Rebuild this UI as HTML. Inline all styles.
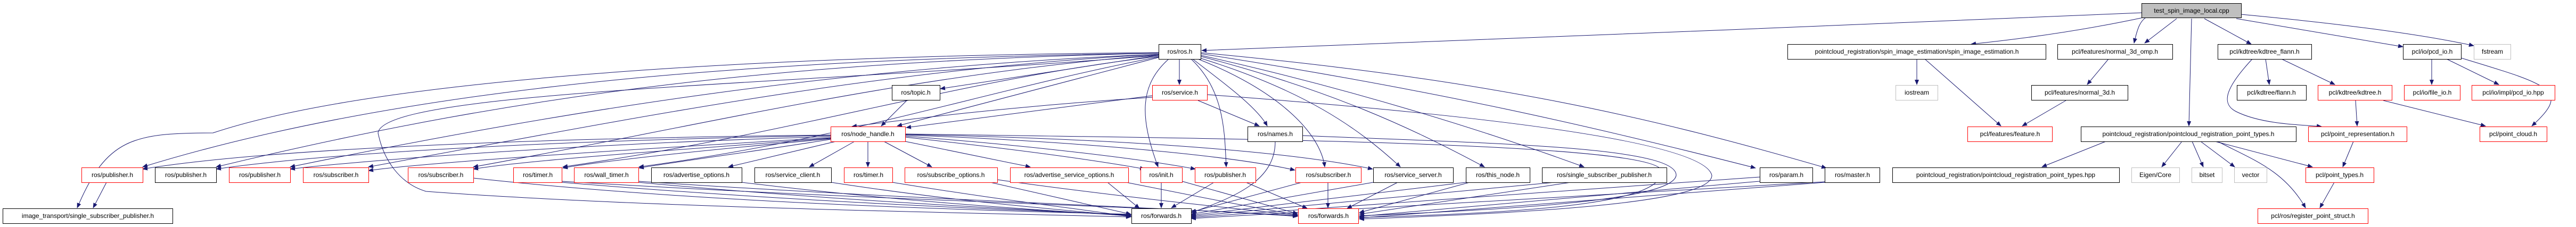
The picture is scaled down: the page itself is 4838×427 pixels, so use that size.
<!DOCTYPE html>
<html><head><meta charset="utf-8"><style>
html,body{margin:0;padding:0;background:#fff;}
svg{display:block}
text{font-family:"Liberation Sans",sans-serif;font-size:12px;fill:#000}
</style></head><body>
<svg width="4838" height="427" viewBox="0 0 4838 427" xmlns="http://www.w3.org/2000/svg">
<defs>
<marker id="a" markerWidth="10" markerHeight="8" refX="9" refY="4" orient="auto" markerUnits="userSpaceOnUse">
<path d="M0,0 L10,4 L0,8 z" fill="#191970"/>
</marker>
</defs>
<g fill="none" stroke="#191970" stroke-width="1" marker-end="url(#a)">
<path d="M4022,24 C3500,45 2700,80 2257,95"/>
<path d="M4030,32 C3900,60 3780,75 3702,83"/>
<path d="M4030,33 C4020,40 4015,50 4008,81"/>
<path d="M4088,35 L4028,81"/>
<path d="M4140,35 L4228,83"/>
<path d="M4116,35 L4111,237"/>
<path d="M4200,35 L4513,88"/>
<path d="M4209,27 C4400,45 4550,65 4646,86"/>
<path d="M3600,111 L3600,159"/>
<path d="M3615,111 L3758,237"/>
<path d="M3960,111 L3920,159"/>
<path d="M3880,189 L3798,237"/>
<path d="M4230,111 C4180,165 4170,195 4200,210 C4250,235 4330,235 4360,238"/>
<path d="M4255,111 L4262,159"/>
<path d="M4285,111 L4385,159"/>
<path d="M4424,189 L4427,237"/>
<path d="M4476,189 L4668,237"/>
<path d="M4567,111 L4567,159"/>
<path d="M4595,111 L4693,159"/>
<path d="M4622,109 C4790,160 4830,170 4755,237"/>
<path d="M4420,266 L4400,314"/>
<path d="M4098,266 L4060,314"/>
<path d="M4117,266 L4138,314"/>
<path d="M4133,266 L4197,314"/>
<path d="M4160,266 L4343,314"/>
<path d="M4165,266 C4230,300 4290,320 4330,391"/>
<path d="M3955,266 L3835,314"/>
<path d="M4384,343 L4357,391"/>
<path d="M2176,104 L1766,167"/>
<path d="M2176,108 L1685,237"/>
<path d="M2215,111 L2215,159"/>
<path d="M2240,111 C2290,150 2360,200 2380,237"/>
<path d="M2195,111 C2140,160 2140,220 2175,314"/>
<path d="M2237,111 C2300,170 2300,250 2303,314"/>
<path d="M2250,111 C2400,170 2480,250 2488,314"/>
<path d="M2253,109 C2450,170 2550,240 2630,314"/>
<path d="M2255,106 C2500,170 2650,240 2788,314"/>
<path d="M2255,104 C2550,170 2800,250 2975,314"/>
<path d="M2255,101 C2700,170 3000,240 3297,316"/>
<path d="M2255,99 C2800,150 3100,220 3430,316"/>
<path d="M2176,100 C1500,110 800,150 268,314"/>
<path d="M2176,100 C1500,115 1000,170 406,314"/>
<path d="M2176,102 C1600,125 1100,200 545,314"/>
<path d="M2176,102 C1650,130 1200,220 692,314"/>
<path d="M2176,103 C1700,140 1300,240 889,314"/>
<path d="M2176,99 C1400,105 700,150 400,250 C250,250 200,260 145,391"/>
<path d="M2176,106 C1800,150 1500,250 1057,314"/>
<path d="M2176,107 C1850,170 1600,260 1200,314"/>
<path d="M2176,104 C1500,160 720,170 710,250 C720,300 750,345 800,360 C1200,390 1800,400 2124,408"/>
<path d="M1560,254 C1000,260 500,280 268,318"/>
<path d="M1560,255 C1000,265 600,290 406,318"/>
<path d="M1560,257 C1100,270 700,300 545,318"/>
<path d="M1560,259 C1200,280 800,305 692,321"/>
<path d="M1560,260 C1300,280 1000,300 889,318"/>
<path d="M1560,261 C1350,280 1150,300 1057,316"/>
<path d="M1560,262 C1450,280 1300,300 1200,316"/>
<path d="M1570,266 L1368,314"/>
<path d="M1605,266 L1520,314"/>
<path d="M1630,266 L1630,314"/>
<path d="M1660,266 L1750,314"/>
<path d="M1700,266 L1935,314"/>
<path d="M1700,258 C1900,280 2050,300 2150,318"/>
<path d="M1700,256 C1950,275 2150,300 2245,318"/>
<path d="M1700,254 C2000,265 2300,290 2432,320"/>
<path d="M1700,253 C2050,260 2400,280 2578,318"/>
<path d="M1700,252 C2200,260 3100,265 3120,320 C3130,380 2900,400 2553,409"/>
<path d="M2164,180 L1702,240"/>
<path d="M2164,183 C1900,200 1700,225 1600,238"/>
<path d="M2250,189 L2365,237"/>
<path d="M2267,178 C2700,210 3200,260 3215,330 C3215,380 2900,400 2553,412"/>
<path d="M2446,255 C2800,270 3150,275 3148,330 C3140,380 2800,395 2553,406"/>
<path d="M1703,189 L1655,237"/>
<path d="M2395,266 C2395,340 2320,370 2238,400"/>
<path d="M200,343 L175,391"/>
<path d="M889,335 C1300,380 1800,395 2124,403"/>
<path d="M1055,343 C1500,380 1900,395 2124,404"/>
<path d="M1055,341 C1600,375 2200,390 2437,406"/>
<path d="M1199,343 C1600,380 1950,395 2124,405"/>
<path d="M1199,341 C1700,375 2200,390 2437,407"/>
<path d="M1393,343 C1700,380 1950,395 2124,406"/>
<path d="M1561,343 C1800,380 2000,395 2124,407"/>
<path d="M1676,343 C1900,380 2050,395 2124,408"/>
<path d="M1860,343 L2124,403"/>
<path d="M1873,338 C2100,370 2300,390 2437,405"/>
<path d="M2080,343 L2140,392"/>
<path d="M2115,343 C2250,370 2350,390 2437,404"/>
<path d="M2181,343 L2181,391"/>
<path d="M2220,341 L2437,402"/>
<path d="M2280,343 L2200,391"/>
<path d="M2340,343 L2455,392"/>
<path d="M2445,343 L2237,399"/>
<path d="M2494,343 L2494,391"/>
<path d="M2579,343 L2237,403"/>
<path d="M2625,343 L2530,392"/>
<path d="M2753,343 L2237,405"/>
<path d="M2760,343 L2553,400"/>
<path d="M2920,343 L2237,407"/>
<path d="M2950,343 L2553,403"/>
<path d="M3305,333 L2237,409"/>
<path d="M3305,341 L2553,407"/>
<path d="M3427,342 L2237,411"/>
<path d="M3427,343 L2553,410"/>
</g>
<g stroke-width="1">
<rect x="4022.5" y="6.5" width="187" height="27" fill="#bfbfbf" stroke="#000"/>
<rect x="2176.5" y="83.5" width="79" height="28" fill="#fff" stroke="#000"/>
<rect x="3357.5" y="83.5" width="485" height="28" fill="#fff" stroke="#000"/>
<rect x="3864.5" y="83.5" width="216" height="28" fill="#fff" stroke="#000"/>
<rect x="4165.5" y="83.5" width="176" height="28" fill="#fff" stroke="#000"/>
<rect x="4513.5" y="83.5" width="109" height="28" fill="#fff" stroke="#000"/>
<rect x="4646.5" y="83.5" width="69" height="28" fill="#fff" stroke="#bfbfbf"/>
<rect x="1675.5" y="160.5" width="90" height="28" fill="#fff" stroke="#000"/>
<rect x="2164.5" y="160.5" width="103" height="28" fill="#fff" stroke="red"/>
<rect x="3560.5" y="160.5" width="79" height="28" fill="#fff" stroke="#bfbfbf"/>
<rect x="3815.5" y="160.5" width="181" height="28" fill="#fff" stroke="#000"/>
<rect x="4201.5" y="160.5" width="130" height="28" fill="#fff" stroke="#000"/>
<rect x="4353.5" y="160.5" width="139" height="28" fill="#fff" stroke="red"/>
<rect x="4515.5" y="160.5" width="105" height="28" fill="#fff" stroke="red"/>
<rect x="4642.5" y="160.5" width="156" height="28" fill="#fff" stroke="red"/>
<rect x="1560.5" y="238.5" width="140" height="28" fill="#fff" stroke="red"/>
<rect x="2343.5" y="238.5" width="103" height="28" fill="#fff" stroke="#000"/>
<rect x="3695.5" y="238.5" width="159" height="28" fill="#fff" stroke="red"/>
<rect x="3908.5" y="238.5" width="404" height="28" fill="#fff" stroke="#000"/>
<rect x="4335.5" y="238.5" width="185" height="28" fill="#fff" stroke="red"/>
<rect x="4657.5" y="238.5" width="126" height="28" fill="#fff" stroke="red"/>
<rect x="153.5" y="315.5" width="115" height="28" fill="#fff" stroke="red"/>
<rect x="291.5" y="315.5" width="115" height="28" fill="#fff" stroke="#000"/>
<rect x="430.5" y="315.5" width="115" height="28" fill="#fff" stroke="red"/>
<rect x="569.5" y="315.5" width="123" height="28" fill="#fff" stroke="red"/>
<rect x="766.5" y="315.5" width="123" height="28" fill="#fff" stroke="red"/>
<rect x="964.5" y="315.5" width="91" height="28" fill="#fff" stroke="red"/>
<rect x="1078.5" y="315.5" width="121" height="28" fill="#fff" stroke="red"/>
<rect x="1223.5" y="315.5" width="170" height="28" fill="#fff" stroke="#000"/>
<rect x="1417.5" y="315.5" width="144" height="28" fill="#fff" stroke="#000"/>
<rect x="1585.5" y="315.5" width="91" height="28" fill="#fff" stroke="red"/>
<rect x="1699.5" y="315.5" width="174" height="28" fill="#fff" stroke="red"/>
<rect x="1897.5" y="315.5" width="222" height="28" fill="#fff" stroke="red"/>
<rect x="2142.5" y="315.5" width="78" height="28" fill="#fff" stroke="red"/>
<rect x="2244.5" y="315.5" width="114" height="28" fill="#fff" stroke="red"/>
<rect x="2433.5" y="315.5" width="123" height="28" fill="#fff" stroke="red"/>
<rect x="2579.5" y="315.5" width="150" height="28" fill="#fff" stroke="#000"/>
<rect x="2753.5" y="315.5" width="120" height="28" fill="#fff" stroke="#000"/>
<rect x="2896.5" y="315.5" width="234" height="28" fill="#fff" stroke="#000"/>
<rect x="3305.5" y="315.5" width="99" height="28" fill="#fff" stroke="#000"/>
<rect x="3427.5" y="315.5" width="103" height="28" fill="#fff" stroke="#000"/>
<rect x="3554.5" y="315.5" width="426" height="28" fill="#fff" stroke="#000"/>
<rect x="4003.5" y="315.5" width="90" height="28" fill="#fff" stroke="#bfbfbf"/>
<rect x="4116.5" y="315.5" width="57" height="28" fill="#fff" stroke="#bfbfbf"/>
<rect x="4196.5" y="315.5" width="61" height="28" fill="#fff" stroke="#bfbfbf"/>
<rect x="4330.5" y="315.5" width="128" height="28" fill="#fff" stroke="red"/>
<rect x="5.5" y="392.5" width="319" height="28" fill="#fff" stroke="#000"/>
<rect x="2125.5" y="392.5" width="112" height="28" fill="#fff" stroke="#000"/>
<rect x="2438.5" y="392.5" width="113" height="28" fill="#fff" stroke="red"/>
<rect x="4240.5" y="392.5" width="207" height="28" fill="#fff" stroke="red"/>
</g>
<g text-anchor="middle">
<text x="4116" y="24">test_spin_image_local.cpp</text>
<text x="2216" y="101">ros/ros.h</text>
<text x="3600" y="101">pointcloud_registration/spin_image_estimation/spin_image_estimation.h</text>
<text x="3972" y="101">pcl/features/normal_3d_omp.h</text>
<text x="4253" y="101">pcl/kdtree/kdtree_flann.h</text>
<text x="4568" y="101">pcl/io/pcd_io.h</text>
<text x="4681" y="101">fstream</text>
<text x="1720" y="178">ros/topic.h</text>
<text x="2216" y="178">ros/service.h</text>
<text x="3600" y="178">iostream</text>
<text x="3906" y="178">pcl/features/normal_3d.h</text>
<text x="4266" y="178">pcl/kdtree/flann.h</text>
<text x="4423" y="178">pcl/kdtree/kdtree.h</text>
<text x="4568" y="178">pcl/io/file_io.h</text>
<text x="4720" y="178">pcl/io/impl/pcd_io.hpp</text>
<text x="1630" y="256">ros/node_handle.h</text>
<text x="2395" y="256">ros/names.h</text>
<text x="3775" y="256">pcl/features/feature.h</text>
<text x="4110" y="256">pointcloud_registration/pointcloud_registration_point_types.h</text>
<text x="4428" y="256">pcl/point_representation.h</text>
<text x="4720" y="256">pcl/point_cloud.h</text>
<text x="211" y="333">ros/publisher.h</text>
<text x="349" y="333">ros/publisher.h</text>
<text x="488" y="333">ros/publisher.h</text>
<text x="631" y="333">ros/subscriber.h</text>
<text x="828" y="333">ros/subscriber.h</text>
<text x="1010" y="333">ros/timer.h</text>
<text x="1139" y="333">ros/wall_timer.h</text>
<text x="1308" y="333">ros/advertise_options.h</text>
<text x="1489" y="333">ros/service_client.h</text>
<text x="1631" y="333">ros/timer.h</text>
<text x="1786" y="333">ros/subscribe_options.h</text>
<text x="2008" y="333">ros/advertise_service_options.h</text>
<text x="2181" y="333">ros/init.h</text>
<text x="2301" y="333">ros/publisher.h</text>
<text x="2495" y="333">ros/subscriber.h</text>
<text x="2654" y="333">ros/service_server.h</text>
<text x="2813" y="333">ros/this_node.h</text>
<text x="3013" y="333">ros/single_subscriber_publisher.h</text>
<text x="3355" y="333">ros/param.h</text>
<text x="3479" y="333">ros/master.h</text>
<text x="3767" y="333">pointcloud_registration/pointcloud_registration_point_types.hpp</text>
<text x="4048" y="333">Eigen/Core</text>
<text x="4145" y="333">bitset</text>
<text x="4227" y="333">vector</text>
<text x="4394" y="333">pcl/point_types.h</text>
<text x="165" y="410">image_transport/single_subscriber_publisher.h</text>
<text x="2181" y="410">ros/forwards.h</text>
<text x="2495" y="410">ros/forwards.h</text>
<text x="4344" y="410">pcl/ros/register_point_struct.h</text>
</g>
</svg>
</body></html>
